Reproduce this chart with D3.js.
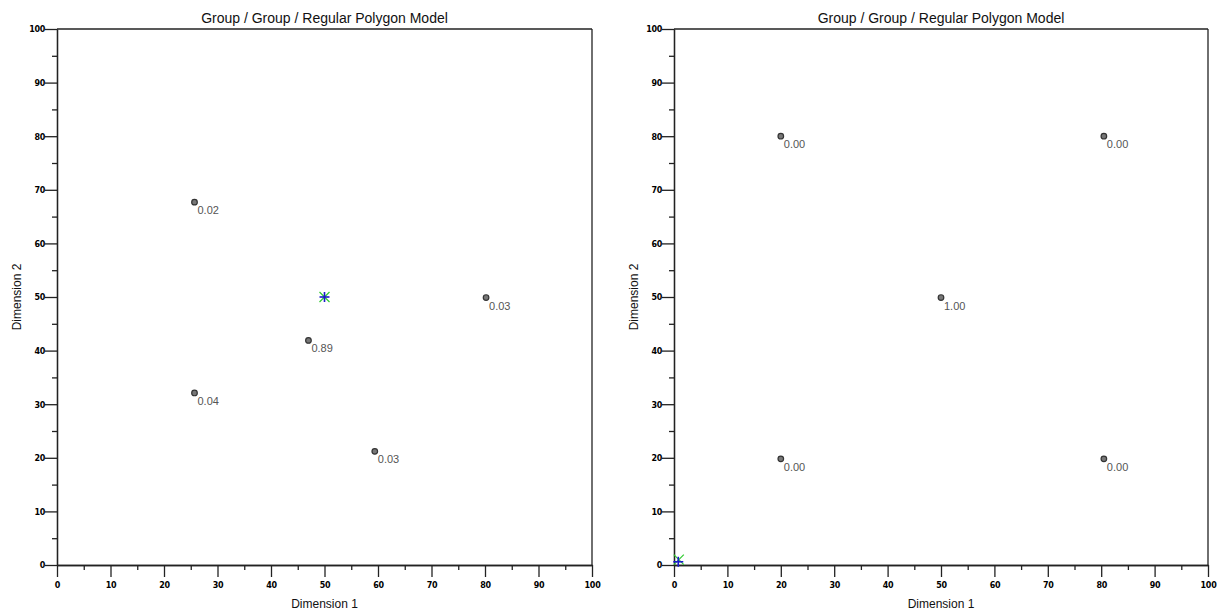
<!DOCTYPE html>
<html><head><meta charset="utf-8">
<script src="https://cdn.jsdelivr.net/npm/d3@7"></script>
<style>body{margin:0;background:#fff;} svg{display:block;}</style>
</head><body>
<svg id="c" width="1217" height="611"></svg>
<script>
const titles = ["Group / Group / Regular Polygon Model", "Group / Group / Regular Polygon Model"];
const xTitle = "Dimension 1";
const yTitle = "Dimension 2";
const tickValues = [0,10,20,30,40,50,60,70,80,90,100];
const minorTicks = [5,15,25,35,45,55,65,75,85,95];

const leftX = [25.7, 80.2, 47.0, 25.7, 59.4];
const leftY = [67.7, 49.9, 41.9, 32.1, 21.2];
const leftLabels = ["0.02","0.03","0.89","0.04","0.03"];
const leftStar = {x:50, y:50};

const rightX = [20.0, 80.5, 50.0, 20.0, 80.5];
const rightY = [80.0, 80.0, 49.9, 19.8, 19.8];
const rightLabels = ["0.00","0.00","1.00","0.00","0.00"];
const rightStarGreen = {x:0.9, y:1.0};
const rightStarBlue = {x:0.8, y:0.6};

const svg = d3.select("#c");
const panels = [
  {x0:57, x1:592, xs:leftX, ys:leftY, labels:leftLabels, green:leftStar, blue:leftStar, title:titles[0]},
  {x0:674, x1:1208, xs:rightX, ys:rightY, labels:rightLabels, green:rightStarGreen, blue:rightStarBlue, title:titles[1]}
];
const yTop = 29, yBot = 565;

panels.forEach(p => {
  const g = svg.append("g");
  const x = d3.scaleLinear().domain([0,100]).range([p.x0, p.x1]);
  const y = d3.scaleLinear().domain([0,100]).range([yBot, yTop]);

  g.append("line").attr("x1", x(0)).attr("x2", x(100)).attr("y1", y(100)).attr("y2", y(100)).attr("stroke","#222").attr("stroke-width",1.3);
  g.append("line").attr("x1", x(100)).attr("x2", x(100)).attr("y1", y(100)).attr("y2", y(0)).attr("stroke","#222").attr("stroke-width",1.3);

  const xa = g.append("g").attr("transform",`translate(0,${yBot})`)
    .call(d3.axisBottom(x).tickValues(tickValues).tickSize(12).tickSizeOuter(0).tickFormat(d3.format("d")));
  const xm = g.append("g").attr("transform",`translate(0,${yBot})`)
    .call(d3.axisBottom(x).tickValues(minorTicks).tickSize(5).tickSizeOuter(0).tickFormat(""));
  const ya = g.append("g").attr("transform",`translate(${p.x0},0)`)
    .call(d3.axisLeft(y).tickValues(tickValues).tickSize(12).tickSizeOuter(0).tickFormat(d3.format("d")));
  const ym = g.append("g").attr("transform",`translate(${p.x0},0)`)
    .call(d3.axisLeft(y).tickValues(minorTicks).tickSize(5).tickSizeOuter(0).tickFormat(""));
  [xa,xm,ya,ym].forEach(a => {
    a.selectAll("path").attr("stroke","#222").attr("stroke-width",1.3);
    a.selectAll("line").attr("stroke","#222").attr("stroke-width",1.3);
    a.selectAll("text").attr("font-family","DejaVu Sans, sans-serif").attr("font-weight","bold")
      .attr("font-size",8).attr("fill","#000").attr("letter-spacing","-0.3");
  });
  xa.selectAll("text").attr("dy","0").attr("y",23);
  ya.selectAll("text").attr("x",-12).attr("dy","0.35em");

  g.append("text").attr("x",(p.x0+p.x1)/2).attr("y",23).attr("text-anchor","middle")
    .attr("font-family","Liberation Sans, Arial, sans-serif").attr("font-size",14).attr("fill","#111").text(p.title);
  g.append("text").attr("x",(p.x0+p.x1)/2).attr("y",608).attr("text-anchor","middle")
    .attr("font-family","Liberation Sans, Arial, sans-serif").attr("font-size",12).attr("fill","#111").text(xTitle);
  g.append("text").attr("transform",`translate(${p.x0-36},${(yTop+yBot)/2}) rotate(-90)`).attr("text-anchor","middle")
    .attr("font-family","Liberation Sans, Arial, sans-serif").attr("font-size",12).attr("fill","#111").text(yTitle);

  const gx = x(p.green.x), gy = y(p.green.y), s = 5;
  const sg = g.append("g");
  sg.append("line").attr("x1",gx-s).attr("y1",gy-s).attr("x2",gx+s).attr("y2",gy+s);
  sg.append("line").attr("x1",gx-s).attr("y1",gy+s).attr("x2",gx+s).attr("y2",gy-s);
  sg.selectAll("line").attr("stroke","#33cc33").attr("stroke-width",1.2);
  const bx = x(p.blue.x), by = y(p.blue.y);
  const sb = g.append("g");
  sb.append("line").attr("x1",bx-s).attr("y1",by).attr("x2",bx+s).attr("y2",by);
  sb.append("line").attr("x1",bx).attr("y1",by-s).attr("x2",bx).attr("y2",by+s);
  sb.selectAll("line").attr("stroke","#1a1acc").attr("stroke-width",1.6);

  const data = p.xs.map((v,i)=>({x:v, y:p.ys[i], l:p.labels[i]}));
  g.selectAll("circle.pt").data(data).enter().append("circle")
    .attr("cx",d=>x(d.x)).attr("cy",d=>y(d.y)).attr("r",2.8)
    .attr("fill","#777").attr("stroke","#333").attr("stroke-width",1.2);
  g.selectAll("text.lb").data(data).enter().append("text")
    .attr("x",d=>x(d.x)+3).attr("y",d=>y(d.y)+12)
    .attr("font-family","Liberation Sans, Arial, sans-serif").attr("font-size",11).attr("fill","#555")
    .text(d=>d.l);
});
</script>
</body></html>
